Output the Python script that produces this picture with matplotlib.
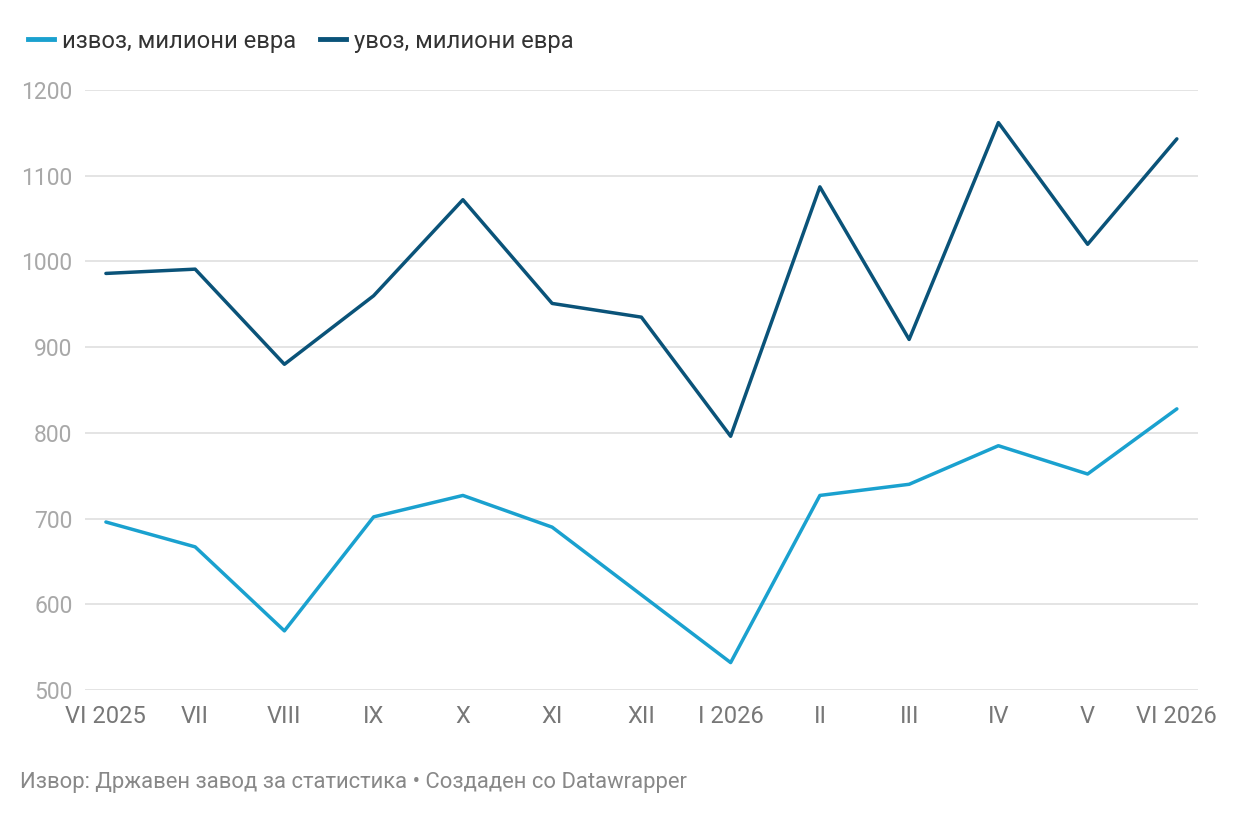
import matplotlib
matplotlib.use("Agg")
import matplotlib.pyplot as plt
from matplotlib.lines import Line2D

plt.rcParams["font.family"] = ["Roboto", "DejaVu Sans"]

months = ["VI 2025", "VII", "VIII", "IX", "X", "XI", "XII",
          "I 2026", "II", "III", "IV", "V", "VI 2026"]
export_vals = [696, 667, 569, 702, 727, 690, 611, 532, 727, 740, 785, 752, 828]
import_vals = [986, 991, 880, 960, 1072, 951, 935, 796, 1087, 909, 1162, 1020, 1143]
y_ticks = [500, 600, 700, 800, 900, 1000, 1100, 1200]

EXPORT_COLOR = "#1aa1cf"
IMPORT_COLOR = "#0a5379"

fig = plt.figure(figsize=(12.4, 8.16), dpi=100)
ax = fig.add_axes([0.0685, 0.1544, 0.8975, 0.7353])

x = range(len(months))
ax.plot(x, export_vals, color=EXPORT_COLOR, linewidth=2.5, solid_capstyle="round", zorder=3)
ax.plot(x, import_vals, color=IMPORT_COLOR, linewidth=2.5, solid_capstyle="round", zorder=3)

ax.set_xlim(-0.235, 12.235)
ax.set_ylim(500, 1200)
ax.set_yticks(y_ticks)
ax.set_yticklabels([str(v) for v in y_ticks], fontsize=16.5, color="#a8a8a8")
ax.set_xticks(list(x))
ax.set_xticklabels(months, fontsize=17, color="#777777")
ax.tick_params(axis="both", length=0)
ax.tick_params(axis="y", pad=9)
ax.tick_params(axis="x", pad=11)
ax.grid(axis="y", color="#e2e2e2", linewidth=1.3, zorder=0)
for s in ax.spines.values():
  s.set_visible(False)

handles = [
  Line2D([], [], color=EXPORT_COLOR, linewidth=3.5),
  Line2D([], [], color=IMPORT_COLOR, linewidth=3.5),
]
fig.legend(
  handles,
  ["извоз, милиони евра", "увоз, милиони евра"],
  loc="upper left",
  bbox_to_anchor=(0.005, 0.99),
  ncol=2,
  frameon=False,
  fontsize=17.1,
  handlelength=1.1,
  handletextpad=0.35,
  columnspacing=1.0,
  labelcolor="#333333",
)

fig.text(0.016, 0.041, "Извор: Државен завод за статистика • Создаден со Datawrapper",
         fontsize=15.8, color="#888888", ha="left", va="center")

fig.savefig("out.png", dpi=100, facecolor="white")
